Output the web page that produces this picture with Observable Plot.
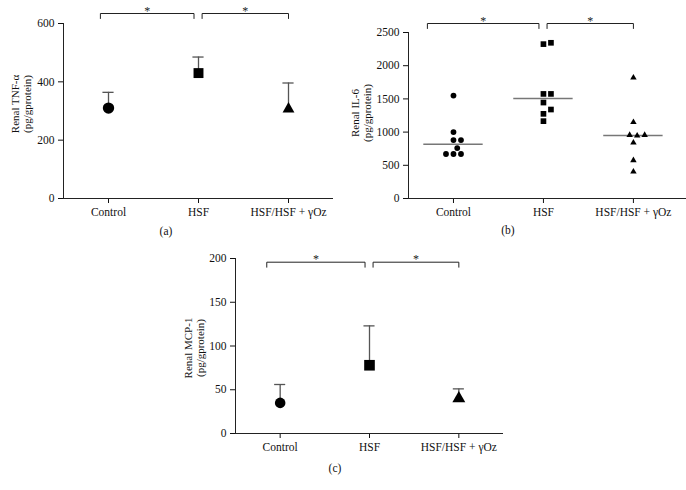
<!DOCTYPE html>
<html><head><meta charset="utf-8">
<script src="https://cdn.jsdelivr.net/npm/d3@7"></script>
<script src="https://cdn.jsdelivr.net/npm/@observablehq/plot@0.6"></script>
<style>
body{margin:0;background:#fff;}
#root{position:relative;width:686px;height:490px;overflow:hidden;background:#fff;}
.panel{position:absolute;}
.plabel{position:absolute;font:11.5px "Liberation Serif",serif;color:#111;transform:translate(-50%,-50%);white-space:nowrap;}
.ylab{position:absolute;font:11px/12px "Liberation Serif",serif;color:#111;text-align:center;white-space:pre;transform:translate(-50%,-50%) rotate(-90deg);}
</style></head><body><div id="root"></div>
<script>
// ---------- data ----------
const categories = ["Control", "HSF", "HSF/HSF + γOz"];
const groupKeys = ["circle", "square", "triangle"];

// (a) Renal TNF-α: mean and upper SD
const tnfMean  = [310, 430, 307];
const tnfUpper = [364, 485, 396];
const tnfTicks = [0, 200, 400, 600];

// (b) Renal IL-6: individual values and group medians
const il6Control = [1550, 1000, 880, 880, 760, 670, 670, 670];
const il6HSF     = [2345, 2325, 1575, 1575, 1445, 1340, 1275, 1165];
const il6Oz      = [1820, 1150, 955, 945, 955, 840, 575, 405];
const il6Center  = [818, 1505, 950];
const il6Ticks   = [0, 500, 1000, 1500, 2000, 2500];

// (c) Renal MCP-1: mean and upper SD
const mcpMean  = [35, 78, 40];
const mcpUpper = [56, 123, 51];
const mcpTicks = [0, 50, 100, 150, 200];

const yLabels = ["Renal TNF-α\n(pg/gprotein)", "Renal IL-6\n(pg/gprotein)", "Renal MCP-1\n(pg/gprotein)"];
const panelLetters = ["(a)", "(b)", "(c)"];
const comparisons = [[0, 1], [1, 2]];
const sigLabel = "*";

// ---------- helpers ----------
const root = document.getElementById("root");
const FONT = "Liberation Serif";

function dodge(values, pxPerUnit, minDist, step) {
  const order = values.map((v, i) => i).sort((a, b) => values[a] - values[b]);
  const placed = [], off = new Array(values.length);
  for (const i of order) {
    const y = values[i] * pxPerUnit;
    for (let k = 0; k < 40; k++) {
      const o = (k % 2 ? 1 : -1) * Math.ceil(k / 2) * step;
      if (placed.every(p => Math.hypot(p.x - o, p.y - y) >= minDist)) {
        off[i] = o; placed.push({x: o, y}); break;
      }
    }
  }
  return off;
}

function addHTML(cls, text, x, y) {
  const el = document.createElement("div");
  el.className = cls;
  el.textContent = text;
  el.style.left = x + "px";
  el.style.top = y + "px";
  root.appendChild(el);
}

function makePanel(cfg) {
  const {left, top, width, height, ml, mr, mt, mb, xDomain, yTicks, label, bracketTop, bLeft, marks} = cfg;
  const yMax = yTicks[yTicks.length - 1];
  const pxPerUnit = (height - mt - mb) / yMax;
  const bracketY = yMax + (mt - bracketTop) / pxPerUnit;
  const dropY = bracketY - 5 / pxPerUnit;
  const starY = bracketY + 1 / pxPerUnit;
  const bracketPts = [];
  comparisons.forEach(([a, b], k) => {
    const x1 = k === 0 ? a + bLeft : a + 0.04;
    const x2 = k === 0 ? b - 0.05 : b;
    bracketPts.push({k, x: x1, y: dropY}, {k, x: x1, y: bracketY}, {k, x: x2, y: bracketY}, {k, x: x2, y: dropY});
  });
  const stars = comparisons.map(([a, b], k) => ({x: (a + b) / 2 + (k === 0 ? (bLeft - 0.05) / 2 : 0.02), y: starY}));

  const plot = Plot.plot({
    width, height,
    marginLeft: ml, marginRight: mr, marginTop: mt, marginBottom: mb,
    style: {fontFamily: FONT, fontSize: "11.5px", color: "#111", background: "transparent", overflow: "visible"},
    x: {domain: xDomain, ticks: [0, 1, 2], tickFormat: i => categories[i], tickSize: 5, tickPadding: 4, label: null},
    y: {domain: [0, yMax], ticks: yTicks, tickFormat: d => String(d), tickSize: 5, tickPadding: 4, label: null},
    marks: [
      Plot.ruleY([0], {x1: xDomain[0], x2: xDomain[1], stroke: "#222", strokeWidth: 1}),
      Plot.ruleX([xDomain[0]], {y1: 0, y2: yMax, stroke: "#222", strokeWidth: 1}),
      ...marks(pxPerUnit),
      Plot.line(bracketPts, {x: "x", y: "y", z: "k", stroke: "#222", strokeWidth: 1}),
      Plot.text(stars, {x: "x", y: "y", text: () => sigLabel, lineAnchor: "bottom", dy: 2, fontSize: 12, fill: "#222"})
    ]
  });
  const wrap = document.createElement("div");
  wrap.className = "panel";
  wrap.style.left = left + "px";
  wrap.style.top = top + "px";
  wrap.appendChild(plot);
  root.appendChild(wrap);
  addHTML("ylab", label, left + cfg.labelX, top + cfg.labelY);
}

function meanMarks(means, uppers, sizes) {
  const rows = means.map((m, i) => ({i, m, u: uppers[i]}));
  return () => [
    Plot.ruleX(rows, {x: "i", y1: "m", y2: "u", stroke: "#555", strokeWidth: 1.3}),
    Plot.ruleY(rows, {y: "u", x1: d => d.i - 0.062, x2: d => d.i + 0.062, stroke: "#555", strokeWidth: 1.3}),
    ...rows.map((d, i) => Plot.dot([d], {x: "i", y: "m", symbol: groupKeys[i], r: sizes[i], fill: "#000", stroke: "none"}))
  ];
}

// ---------- panel (a) ----------
makePanel({
  left: 0, top: 0, width: 340, height: 240, ml: 63, mr: 7, mt: 23, mb: 42,
  xDomain: [-0.5, 2.5], yTicks: tnfTicks, label: yLabels[0], bracketTop: 13, bLeft: -0.09,
  labelX: 21, labelY: 104,
  marks: meanMarks(tnfMean, tnfUpper, [5.7, 5.6, 4.4])
});

// ---------- panel (b) ----------
makePanel({
  left: 340, top: 0, width: 346, height: 240, ml: 68, mr: 0, mt: 32, mb: 42,
  xDomain: [-0.5, 2.59], yTicks: il6Ticks, label: yLabels[1], bracketTop: 23, bLeft: -0.29,
  labelX: 21, labelY: 113,
  marks: (pxPerUnit) => {
    const pxPerX = 90;
    const groups = [il6Control, il6HSF, il6Oz];
    const sizes = [2.9, 3.2, 2.4];
    const out = [];
    const centers = il6Center.map((v, i) => ({i, v}));
    out.push(Plot.ruleY(centers, {y: "v", x1: d => d.i - 0.33, x2: d => d.i + 0.33, stroke: "#777", strokeWidth: 1.5}));
    groups.forEach((vals, g) => {
      const off = dodge(vals, pxPerUnit, 7, 3.75);
      const pts = vals.map((v, j) => ({x: g + off[j] / pxPerX, y: v}));
      out.push(Plot.dot(pts, {x: "x", y: "y", symbol: groupKeys[g], r: sizes[g], fill: "#000", stroke: "none"}));
    });
    return out;
  }
});

// ---------- panel (c) ----------
makePanel({
  left: 170, top: 240, width: 340, height: 250, ml: 65, mr: 7, mt: 18, mb: 57,
  xDomain: [-0.5, 2.5], yTicks: mcpTicks, label: yLabels[2], bracketTop: 21.7, bLeft: -0.15,
  labelX: 24, labelY: 108,
  marks: meanMarks(mcpMean, mcpUpper, [5.3, 6, 4.8])
});

addHTML("plabel", panelLetters[0], 166, 231);
addHTML("plabel", panelLetters[1], 508, 230);
addHTML("plabel", panelLetters[2], 335, 468);
</script>
</body></html>
